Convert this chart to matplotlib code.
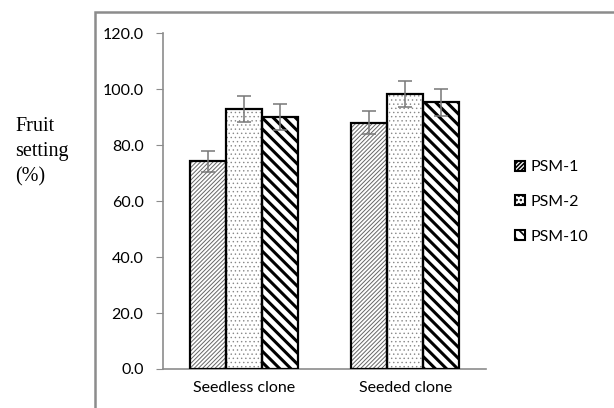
import matplotlib.pyplot as plt
from matplotlib.patches import Rectangle, Patch
import numpy as np

plt.rcParams['hatch.linewidth'] = 1.0

categories = ['Seedless clone', 'Seeded clone']
series = ['PSM-1', 'PSM-2', 'PSM-10']
values = {
    'PSM-1': [74.2, 88.0],
    'PSM-2': [93.0, 98.1],
    'PSM-10': [90.0, 95.2],
}
errors = {
    'PSM-1': [3.7, 4.1],
    'PSM-2': [4.6, 4.6],
    'PSM-10': [4.8, 4.9],
}
yticks = [0, 20, 40, 60, 80, 100, 120]

# hatch, hatch colour, hatch line width
styles = {
    'PSM-1': ('////////', '#666666', 0.7),
    'PSM-2': ('....', '#888888', 0.5),
    'PSM-10': ('\\\\\\', 'black', 2.2),
}

fig = plt.figure(figsize=(6.14, 4.08), dpi=100)
ax = fig.add_axes([0.2655, 0.0956, 0.526, 0.8234])

# outer chart border (runs off the right and bottom of the image)
fig.patches.append(Rectangle((95 / 614, -0.1), 1.0, 1 - 12 / 408 + 0.1,
                             transform=fig.transFigure, fill=False,
                             edgecolor='#8c8c8c', linewidth=1.8))

x = np.arange(len(categories))
w = 0.222
handles = []
for i, s in enumerate(series):
    pos = x + (i - 1) * w
    hatch, hc, hlw = styles[s]
    plt.rcParams['hatch.linewidth'] = hlw
    ax.bar(pos, values[s], w, color='white', hatch=hatch,
           edgecolor=hc, linewidth=0, zorder=2)
    ax.bar(pos, values[s], w, fill=False, edgecolor='black',
           linewidth=1.6, zorder=3)
    ax.errorbar(pos, values[s], yerr=errors[s], fmt='none',
                ecolor='#777777', elinewidth=1.1, capsize=5, capthick=1.1,
                zorder=4)
    handles.append(Patch(facecolor='white', edgecolor='black', hatch=hatch,
                         linewidth=1.5, label=s))

plt.rcParams['hatch.linewidth'] = 1.2

ax.set_xlim(-0.5, 1.5)
ax.set_ylim(0, 120)
ax.set_yticks(yticks)
ax.set_yticklabels(['%.1f' % t for t in yticks], family='Lato', fontsize=11.5)
ax.set_xticks(x)
ax.set_xticklabels(categories, family='Lato', fontsize=11.5)
ax.tick_params(axis='x', length=0, pad=9)
ax.tick_params(axis='y', length=5, color='#8c8c8c', pad=9)
for sp in ['top', 'right']:
    ax.spines[sp].set_visible(False)
ax.spines['left'].set_color('#8c8c8c')
ax.spines['bottom'].set_color('#8c8c8c')
ax.spines['left'].set_linewidth(1.2)
ax.spines['bottom'].set_linewidth(1.2)

fig.text(15 / 614, 1 - 152 / 408, 'Fruit\nsetting\n(%)', family='Liberation Serif',
         fontsize=14.5, ha='left', va='center', linespacing=1.45)

fig.legend(handles=handles, loc='center left', bbox_to_anchor=(509 / 614, 1 - 202 / 408),
           frameon=False, prop={'family': 'Lato', 'size': 11.5},
           handlelength=0.6, handleheight=0.6, handletextpad=0.35,
           labelspacing=1.3, borderaxespad=0)

fig.savefig('out.png', dpi=100)
